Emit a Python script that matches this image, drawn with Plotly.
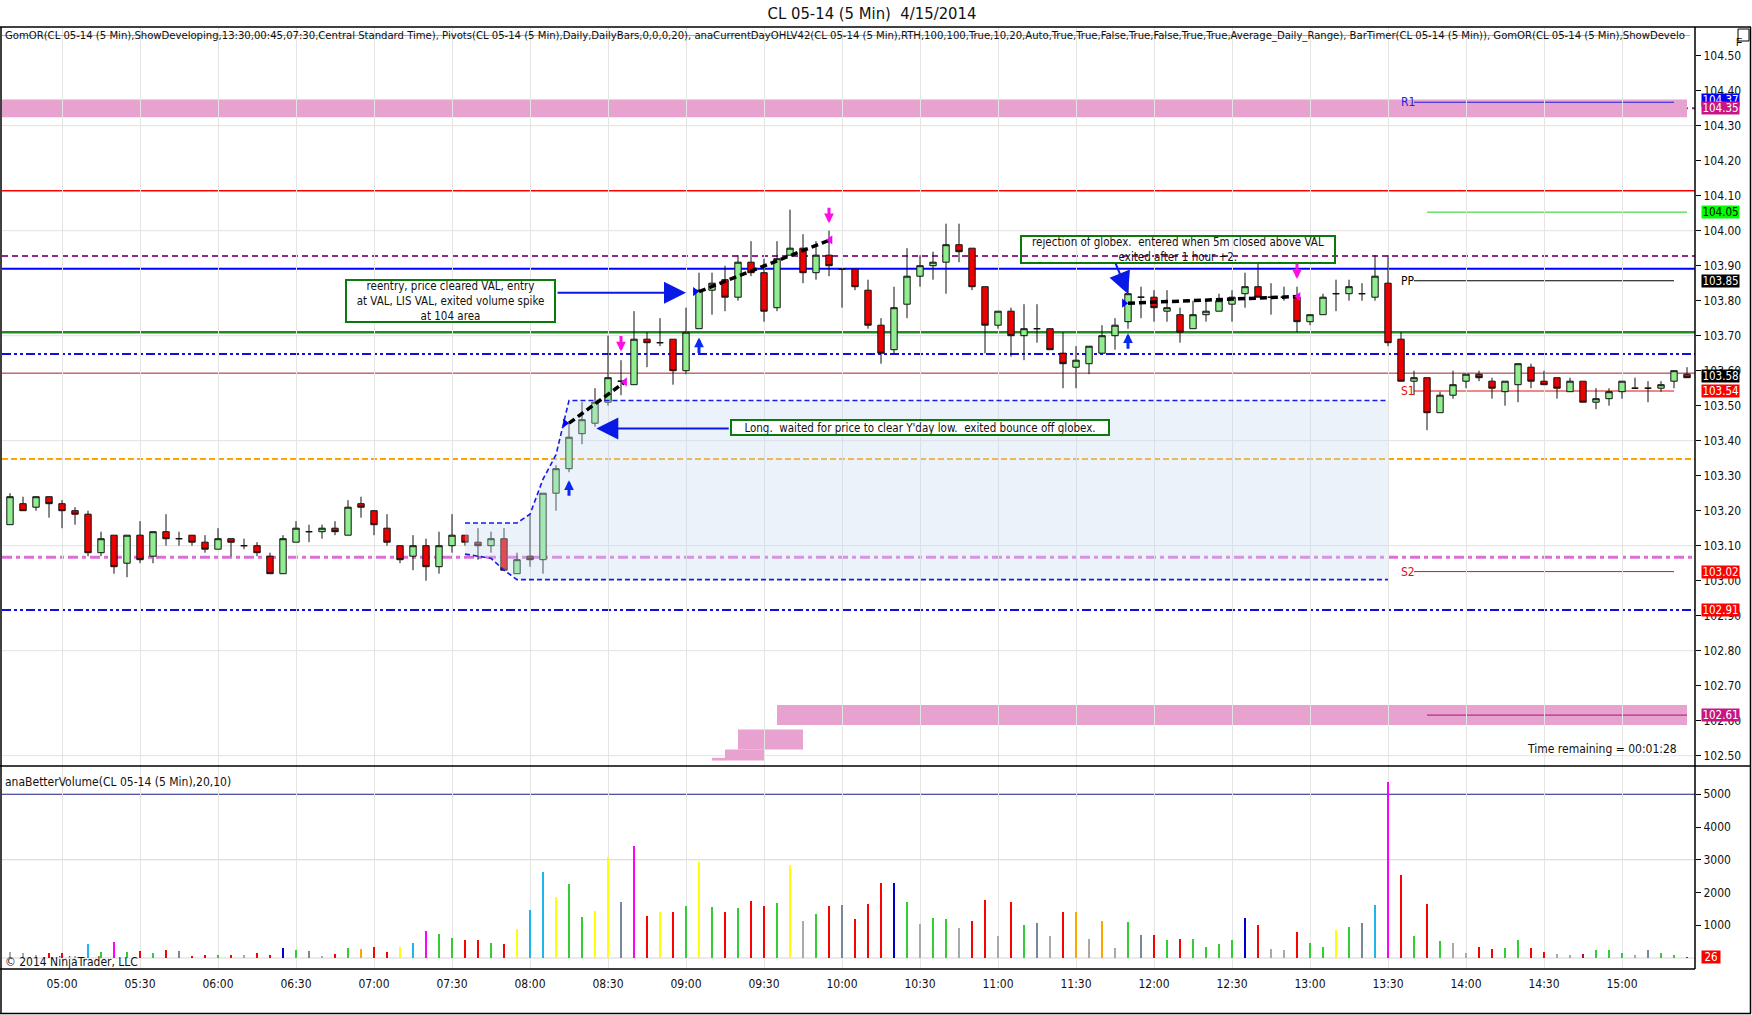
import plotly.graph_objects as go

# ---------------- data ----------------
START_TIME = (4, 40)          # first bar time, 5-minute bars
BAR_MINUTES = 5

OPEN = [103.16,103.22,103.21,103.24,103.22,103.20,103.19,103.08,103.13,103.05,
        103.13,103.07,103.14,103.12,103.13,103.11,103.09,103.12,103.10,103.10,
        103.07,103.02,103.11,103.14,103.14,103.15,103.13,103.22,103.20,103.15,
        103.10,103.07,103.10,103.04,103.10,103.13,103.11,103.10,103.12,103.02,
        103.07,103.06,103.25,103.32,103.42,103.45,103.51,103.57,103.56,103.69,
        103.68,103.69,103.60,103.72,103.83,103.86,103.81,103.91,103.88,103.78,
        103.93,103.95,103.88,103.93,103.89,103.89,103.83,103.73,103.66,103.79,
        103.87,103.90,103.91,103.96,103.95,103.84,103.73,103.77,103.70,103.72,
        103.72,103.65,103.61,103.62,103.65,103.70,103.74,103.81,103.81,103.77,
        103.76,103.72,103.76,103.77,103.79,103.82,103.84,103.81,103.81,103.81,
        103.74,103.76,103.82,103.82,103.82,103.81,103.85,103.69,103.57,103.58,
        103.48,103.53,103.57,103.59,103.57,103.54,103.56,103.61,103.57,103.58,
        103.54,103.57,103.51,103.52,103.54,103.55,103.55,103.55,103.57,103.59]
HIGH = [103.25,103.24,103.24,103.24,103.23,103.21,103.20,103.14,103.13,103.13,
        103.17,103.14,103.19,103.14,103.13,103.13,103.15,103.12,103.12,103.11,
        103.08,103.13,103.17,103.16,103.16,103.17,103.23,103.24,103.20,103.19,
        103.10,103.13,103.12,103.14,103.19,103.13,103.15,103.14,103.15,103.08,
        103.19,103.25,103.33,103.45,103.51,103.55,103.70,103.63,103.77,103.71,
        103.75,103.69,103.78,103.88,103.88,103.90,103.93,103.97,103.92,103.97,
        104.06,103.99,103.97,104.00,103.89,103.89,103.86,103.75,103.84,103.95,
        103.93,103.94,104.02,104.02,103.95,103.84,103.77,103.78,103.79,103.79,
        103.72,103.71,103.67,103.67,103.73,103.75,103.85,103.84,103.83,103.83,
        103.78,103.80,103.80,103.82,103.83,103.88,103.91,103.85,103.84,103.84,
        103.76,103.82,103.86,103.86,103.85,103.93,103.93,103.71,103.60,103.58,
        103.54,103.60,103.59,103.60,103.58,103.57,103.62,103.62,103.60,103.58,
        103.58,103.57,103.55,103.55,103.57,103.58,103.57,103.57,103.60,103.61]
LOW = [103.16,103.20,103.20,103.18,103.15,103.16,103.07,103.07,103.02,103.01,
       103.05,103.05,103.10,103.10,103.10,103.08,103.09,103.07,103.09,103.07,
       103.02,103.02,103.11,103.11,103.12,103.13,103.13,103.18,103.13,103.10,
       103.05,103.03,103.00,103.02,103.08,103.10,103.06,103.08,103.03,103.02,
       103.04,103.02,103.20,103.31,103.39,103.44,103.50,103.53,103.56,103.61,
       103.67,103.56,103.59,103.72,103.76,103.77,103.80,103.87,103.74,103.77,
       103.93,103.85,103.86,103.87,103.78,103.83,103.72,103.62,103.65,103.75,
       103.84,103.86,103.82,103.91,103.83,103.65,103.72,103.64,103.63,103.68,
       103.66,103.55,103.55,103.59,103.65,103.66,103.72,103.75,103.74,103.74,
       103.68,103.72,103.74,103.77,103.74,103.78,103.81,103.76,103.80,103.71,
       103.73,103.76,103.77,103.80,103.80,103.80,103.67,103.57,103.53,103.43,
       103.48,103.52,103.55,103.57,103.52,103.50,103.51,103.55,103.56,103.52,
       103.54,103.51,103.49,103.50,103.52,103.55,103.51,103.54,103.55,103.58]
CLOSE = [103.24,103.20,103.24,103.22,103.20,103.19,103.08,103.12,103.04,103.13,
         103.06,103.14,103.12,103.12,103.11,103.09,103.12,103.11,103.10,103.08,
         103.02,103.12,103.15,103.14,103.15,103.14,103.21,103.21,103.16,103.11,
         103.06,103.10,103.04,103.10,103.13,103.11,103.10,103.12,103.03,103.06,
         103.06,103.25,103.32,103.41,103.46,103.51,103.58,103.57,103.69,103.68,
         103.68,103.60,103.71,103.83,103.85,103.81,103.91,103.88,103.77,103.92,
         103.95,103.88,103.93,103.90,103.89,103.84,103.73,103.65,103.78,103.87,
         103.90,103.91,103.96,103.94,103.84,103.73,103.77,103.70,103.72,103.72,
         103.66,103.62,103.63,103.67,103.70,103.73,103.82,103.81,103.78,103.78,
         103.71,103.76,103.77,103.80,103.81,103.84,103.81,103.81,103.81,103.74,
         103.76,103.81,103.82,103.84,103.82,103.87,103.68,103.57,103.58,103.48,
         103.53,103.56,103.59,103.58,103.55,103.57,103.62,103.57,103.56,103.55,
         103.57,103.51,103.52,103.54,103.57,103.55,103.55,103.56,103.60,103.58]
VOLUME = [190,140,100,140,160,70,440,190,500,190,
          220,140,250,220,70,100,100,100,100,160,
          100,310,250,220,70,130,310,280,340,190,
          340,470,830,740,620,560,560,470,440,890,
          1470,2620,1860,2260,1260,1450,3080,1710,3410,1290,
          1410,1410,1590,2930,1560,1410,1530,1740,1590,1680,
          2840,1130,1350,1590,1620,1200,1650,2290,2290,1710,
          1050,1230,1200,930,1130,1780,680,1710,1020,1070,
          680,1410,1410,590,1130,310,1100,710,710,560,
          590,590,345,436,557,1226,1013,284,253,800,
          466,345,861,953,1074,1622,5361,2534,679,1652,
          527,466,162,345,284,314,557,314,193,132,
          101,132,253,253,162,101,253,162,101,26]
# anaBetterVolume bar class per bar
VOL_CLASS = list("NNNRRNCGMG" "RGRSRRGRNR" "RBGSNRGORR" "YCMGGRRGRY"
                 "CCYGGYYSMR" "YRGYGRGRRG" "YNGRSRRRBG" "NGGNRRNRGS"
                 "NRONONGSRG" "RGGGGBRNNR" "GGYGSCMRGR"
                 "GNNRRGGRRN" "NDGGGNSGGD")

# Opening-range (GomOR developing) box
OR_IDX = [35, 36, 37, 38, 39, 40, 41, 42, 43, 106]
OR_HIGH = [103.165, 103.165, 103.165, 103.165, 103.165, 103.19, 103.29, 103.36, 103.515, 103.515]
OR_LOW = [103.076, 103.07, 103.064, 103.03, 103.003, 103.003, 103.003, 103.003, 103.003, 103.003]

# full-width indicator levels
LEVELS = [104.35, 104.114, 103.928, 103.891, 103.71, 103.648, 103.593, 103.348, 103.067, 102.916]

# daily pivots
PIVOT_NAMES = ["R1", "PP", "S1", "S2"]
PIVOT_LEVELS = [104.367, 103.857, 103.542, 103.026]
CUR_OPEN_LEVEL = 104.053
GLOBEX_LOW_LEVEL = 102.616

# value bands (GomOR)
TOP_BAND = [104.324, 104.375]
LOW_BAND_STEPS = [  # (first bar, last bar, low, high)
    (59, 129, 102.588, 102.645),
    (56, 61, 102.518, 102.575),
    (55, 58, 102.486, 102.518),
    (54, 55, 102.486, 102.494),
]

# trades: entry bar, entry price, exit bar, exit price
TRADE_ENTRY_BAR = [43, 53, 86]
TRADE_ENTRY_PX = [103.45, 103.826, 103.793]
TRADE_EXIT_BAR = [47.3, 63.1, 99.1]
TRADE_EXIT_PX = [103.568, 103.974, 103.812]
BUY_ARROW_PX = [103.287, 103.695, 103.707]
SELL_ARROW_BAR = [47, 63, 99]
SELL_ARROW_PX = [103.655, 104.021, 103.862]

# price-axis flags
FLAG_TEXT = ["104.37", "104.35", "104.05", "103.85", "103.58", "103.54", "103.02", "102.91", "102.61"]
FLAG_LEVEL = [104.373, 104.35, 104.053, 103.857, 103.584, 103.542, 103.026, 102.916, 102.616]
VOL_FLAG_TEXT = "26"

PRICE_TICKS = [round(102.5 + 0.1 * k, 2) for k in range(21)]
VOL_TICKS = [1000, 2000, 3000, 4000, 5000]

TITLE = "CL 05-14 (5 Min)  4/15/2014"
HEADER = ("GomOR(CL 05-14 (5 Min),ShowDeveloping,13:30,00:45,07:30,Central Standard Time), "
          "Pivots(CL 05-14 (5 Min),Daily,DailyBars,0,0,0,20), "
          "anaCurrentDayOHLV42(CL 05-14 (5 Min),RTH,100,100,True,10,20,Auto,True,True,False,True,False,True,True,Average_Daily_Range), "
          "BarTimer(CL 05-14 (5 Min)), GomOR(CL 05-14 (5 Min),ShowDevelo")
VOL_TITLE = "anaBetterVolume(CL 05-14 (5 Min),20,10)"
NOTE_1 = "reentry, price cleared VAL, entry<br>at VAL, LIS VAL, exited volume spike<br>at 104 area"
NOTE_2 = "Long.  waited for price to clear Y'day low.  exited bounce off globex."
NOTE_3 = "rejection of globex.  entered when 5m closed above VAL<br>exited after 1 hour +2."

# ---------------- geometry / style ----------------
W, H = 1752, 1015
ML, MR, MT, MB = 2, 57, 27, 46
PW, PH = W - ML - MR, H - MT - MB
FONT = "Liberation Sans Narrow, Arial Narrow, DejaVu Sans Condensed, sans-serif"


def px2x(px):
    return (px - ML) / PW


def py2y(py):
    return (H - MB - py) / PH


SPLIT = py2y(766)
XMIN, XMAX = (ML - 10) / 13.0, (W - MR - 10) / 13.0
PRICE_RANGE = [104.5 - (766 - 55.7) / 350.0, 104.5 + (55.7 - 27) / 350.0]
VOL_RANGE = [-(969 - 958) / 0.03275, (958 - 766) / 0.03275]

N = len(OPEN)
BAR_X = list(range(N))
BAR_TIMES = []
for i in range(N):
    t = START_TIME[0] * 60 + START_TIME[1] + i * BAR_MINUTES
    BAR_TIMES.append(f"{t // 60:02d}:{t % 60:02d}")
TICK_IDX = [i for i, t in enumerate(BAR_TIMES) if t[-2:] in ("00", "30")]
TICK_TXT = [BAR_TIMES[i] for i in TICK_IDX]

VOL_COLORS = {"R": "#FF0000", "G": "#32CD32", "N": "#A9A9A9", "S": "#778899",
              "C": "#1CB6EC", "M": "#FF00FF", "Y": "#FFFF00", "B": "#0000CD",
              "O": "#FFA500", "D": "#B0103A"}

fig = go.Figure()

# opening-range box
fig.add_trace(go.Scatter(x=OR_IDX, y=OR_LOW, mode="lines", xaxis="x", yaxis="y",
                         line=dict(color="#1A1AE6", width=1.6, dash="5px,3px"), hoverinfo="skip"))
fig.add_trace(go.Scatter(x=OR_IDX, y=OR_HIGH, mode="lines", xaxis="x", yaxis="y", fill="tonexty",
                         fillcolor="rgba(200,218,242,0.35)",
                         line=dict(color="#1A1AE6", width=1.6, dash="5px,3px"), hoverinfo="skip"))

# candles
fig.add_trace(go.Candlestick(
    x=BAR_X, open=OPEN, high=HIGH, low=LOW, close=CLOSE, xaxis="x", yaxis="y",
    increasing=dict(fillcolor="#90EE90", line=dict(color="#101010", width=1)),
    decreasing=dict(fillcolor="#EE0000", line=dict(color="#101010", width=1)),
    whiskerwidth=0, showlegend=False))

# volume
fig.add_trace(go.Bar(x=BAR_X, y=VOLUME, xaxis="x", yaxis="y2", width=0.22,
                     marker=dict(color=[VOL_COLORS[c] for c in VOL_CLASS], line=dict(width=0)),
                     showlegend=False))

# trade lines
for eb, ep, xb, xp in zip(TRADE_ENTRY_BAR, TRADE_ENTRY_PX, TRADE_EXIT_BAR, TRADE_EXIT_PX):
    fig.add_trace(go.Scatter(x=[eb, xb], y=[ep, xp], mode="lines", xaxis="x", yaxis="y",
                             line=dict(color="black", width=3.5, dash="7px,4px"), hoverinfo="skip"))
fig.add_trace(go.Scatter(x=[b - 0.3 for b in TRADE_ENTRY_BAR], y=TRADE_ENTRY_PX, mode="markers",
                         xaxis="x", yaxis="y", marker=dict(symbol="triangle-right", size=8, color="#0000FF"),
                         hoverinfo="skip"))
fig.add_trace(go.Scatter(x=TRADE_EXIT_BAR, y=TRADE_EXIT_PX, mode="markers",
                         xaxis="x", yaxis="y", marker=dict(symbol="triangle-left", size=8, color="#FF00FF"),
                         hoverinfo="skip"))

# flag pointers
FLAG_BG = ["#0000FF", "#C71585", "#00FF00", "#000000", "#000000", "#FF0000", "#FF0000", "#FF0000", "#C71585"]
FLAG_FG = ["white", "white", "black", "white", "white", "white", "white", "white", "white"]
fig.add_trace(go.Scatter(
    x=[XMAX + 5.0 / 13] * len(FLAG_LEVEL), y=FLAG_LEVEL,
    mode="markers", xaxis="x", yaxis="y", cliponaxis=False,
    marker=dict(symbol="triangle-left", size=12, color=FLAG_BG, line=dict(width=0)), hoverinfo="skip"))
fig.add_trace(go.Scatter(x=[XMAX + 5.0 / 13], y=[VOLUME[-1]], mode="markers", xaxis="x", yaxis="y2",
                         cliponaxis=False,
                         marker=dict(symbol="triangle-left", size=12, color="#FF0000"), hoverinfo="skip"))

shapes = []
# price grid every 0.30
g = 102.5
while g < 104.55:
    shapes.append(dict(type="line", xref="paper", yref="y", x0=0, x1=1, y0=g, y1=g,
                       line=dict(color="#E2E2E2", width=1), layer="below"))
    g = round(g + 0.3, 2)
for v in (0, 3000):
    shapes.append(dict(type="line", xref="paper", yref="y2", x0=0, x1=1, y0=v, y1=v,
                       line=dict(color="#D6D6D6", width=1), layer="below"))
shapes.append(dict(type="line", xref="paper", yref="y2", x0=0, x1=1, y0=5000, y1=5000,
                   line=dict(color="#1C1C8C", width=1.2), layer="below"))

# pink bands
shapes.append(dict(type="rect", xref="x", yref="y", x0=XMIN, x1=129, y0=TOP_BAND[0], y1=TOP_BAND[1],
                   fillcolor="#E8A2CF", line=dict(width=0), layer="below"))
for a, b, lo, hi in LOW_BAND_STEPS:
    shapes.append(dict(type="rect", xref="x", yref="y", x0=a, x1=b, y0=lo, y1=hi,
                       fillcolor="#E8A2CF", line=dict(width=0), layer="below"))

# full width level lines
LEVEL_STYLE = [
    dict(color="#8E2A8E", width=2, dash="6px,4px"),
    dict(color="#FF0000", width=1.6),
    dict(color="#8E2A8E", width=2, dash="6px,4px"),
    dict(color="#0000FF", width=2),
    dict(color="#1E8C1E", width=2.4),
    dict(color="#1010E0", width=2, dash="9px,3px,3px,3px,3px,3px"),
    dict(color="#A0202A", width=1),
    dict(color="#FFA500", width=2, dash="6px,3px"),
    dict(color="#DA70D6", width=3, dash="10px,4px,4px,4px"),
    dict(color="#1010E0", width=2, dash="9px,3px,3px,3px,3px,3px"),
]
for lv, st in zip(LEVELS, LEVEL_STYLE):
    shapes.append(dict(type="line", xref="paper", yref="y", x0=0, x1=1, y0=lv, y1=lv, line=st, layer="below"))

# pivots and short lines
PIVOT_COLORS = ["#2020E0", "#000000", "#E01010", "#E01010"]
for lv, c in zip(PIVOT_LEVELS, PIVOT_COLORS):
    shapes.append(dict(type="line", xref="x", yref="y", x0=108, x1=128, y0=lv, y1=lv,
                       line=dict(color=c, width=1), layer="below"))
shapes.append(dict(type="line", xref="x", yref="y", x0=109, x1=129, y0=CUR_OPEN_LEVEL, y1=CUR_OPEN_LEVEL,
                   line=dict(color="#22CC22", width=1), layer="below"))
shapes.append(dict(type="line", xref="x", yref="y", x0=109, x1=129, y0=GLOBEX_LOW_LEVEL, y1=GLOBEX_LOW_LEVEL,
                   line=dict(color="#B0106A", width=1), layer="below"))

# frame
BL = dict(color="black", width=1.5)
shapes += [
    dict(type="line", xref="paper", yref="paper", x0=px2x(0), x1=px2x(1751), y0=1, y1=1, line=BL),
    dict(type="line", xref="paper", yref="paper", x0=px2x(0), x1=px2x(1751), y0=SPLIT, y1=SPLIT, line=BL),
    dict(type="line", xref="paper", yref="paper", x0=px2x(0), x1=1, y0=0, y1=0, line=BL),
    dict(type="line", xref="paper", yref="paper", x0=1, x1=1, y0=0, y1=1, line=BL),
    dict(type="line", xref="paper", yref="paper", x0=px2x(1), x1=px2x(1), y0=py2y(1013.5), y1=1, line=BL),
    dict(type="line", xref="paper", yref="paper", x0=px2x(0), x1=px2x(1751), y0=py2y(1013.5), y1=py2y(1013.5), line=BL),
    dict(type="line", xref="paper", yref="paper", x0=px2x(1750.5), x1=px2x(1750.5), y0=py2y(1013.5), y1=1, line=BL),
    dict(type="line", xref="paper", yref="paper", x0=px2x(2), x1=px2x(1690), y0=py2y(35.5), y1=py2y(35.5),
         line=dict(color="#F0A020", width=1)),
    dict(type="rect", xref="paper", yref="paper", x0=px2x(1738), x1=px2x(1749), y0=py2y(41), y1=py2y(29),
         line=dict(color="black", width=1), fillcolor="white"),
]

ann = []
ann.append(dict(text=HEADER, xref="paper", yref="paper", x=px2x(3), y=py2y(35), xanchor="left", yanchor="middle",
                showarrow=False, font=dict(family=FONT, size=11.2, color="#111")))
ann.append(dict(text=VOL_TITLE, xref="paper", yref="paper", x=px2x(3), y=py2y(782), xanchor="left",
                yanchor="middle", showarrow=False, font=dict(family=FONT, size=12, color="#111")))
ann.append(dict(text="© 2014 NinjaTrader, LLC", xref="paper", yref="paper", x=px2x(3), y=py2y(962),
                xanchor="left", yanchor="middle", showarrow=False, font=dict(family=FONT, size=12, color="#111")))
ann.append(dict(text="Time remaining = 00:01:28", xref="paper", yref="paper", x=px2x(1679), y=py2y(749),
                xanchor="right", yanchor="middle", showarrow=False, font=dict(family=FONT, size=12, color="#111")))
ann.append(dict(text="F", xref="paper", yref="paper", x=px2x(1743.5), y=py2y(35), showarrow=False,
                font=dict(family="Arial, Liberation Sans, sans-serif", size=10, color="black")))

# note boxes
for txt, cx, cy, w, h, bg in [(NOTE_1, 33.85, 103.799, 207, 40, "white"),
                              (NOTE_2, 70.0, 103.438, 376, 13, "white"),
                              (NOTE_3, 89.85, 103.946, 312, 25, "rgba(0,0,0,0)")]:
    ann.append(dict(text=txt, x=cx, y=cy, xref="x", yref="y", showarrow=False, width=w, height=h,
                    bgcolor=bg, bordercolor="#0A7A0A", borderwidth=2, borderpad=0, align="center",
                    font=dict(family=FONT, size=11.5, color="#111")))
# blue note arrows
for tx, ty, axx, ayy in [(52.0, 103.823, 42.0, 103.823), (45.1, 103.435, 55.4, 103.435),
                         (86.0, 103.819, 85.0, 103.911)]:
    ann.append(dict(text="", x=tx, y=ty, ax=axx, ay=ayy, xref="x", yref="y", axref="x", ayref="y",
                    showarrow=True, arrowhead=2, arrowsize=2.2, arrowwidth=2, arrowcolor="#0A1AE6"))
# buy / sell arrows
for b, p in zip(TRADE_ENTRY_BAR, BUY_ARROW_PX):
    ann.append(dict(text="", x=b, y=p, xref="x", yref="y", ax=0, ay=17, showarrow=True,
                    arrowhead=2, arrowsize=0.65, arrowwidth=3, arrowcolor="#0A2AF0"))
for b, p in zip(SELL_ARROW_BAR, SELL_ARROW_PX):
    ann.append(dict(text="", x=b, y=p, xref="x", yref="y", ax=0, ay=-17, showarrow=True,
                    arrowhead=2, arrowsize=0.65, arrowwidth=3, arrowcolor="#FF10E0"))
# pivot names
for nm, lv, c in zip(PIVOT_NAMES, PIVOT_LEVELS, PIVOT_COLORS):
    ann.append(dict(text=nm, x=106.85, y=lv, xref="x", yref="y", xanchor="left", yanchor="middle",
                    showarrow=False, font=dict(family=FONT, size=12, color=c)))
# flags
for txt, lv, bg, fg in zip(FLAG_TEXT, FLAG_LEVEL, FLAG_BG, FLAG_FG):
    ann.append(dict(text=txt, xref="paper", yref="y", x=1, y=lv, xshift=6, xanchor="left",
                    yanchor="middle", showarrow=False, bgcolor=bg, width=37, height=12, borderpad=0,
                    font=dict(family=FONT, size=11.5, color=fg)))
ann.append(dict(text=VOL_FLAG_TEXT, xref="paper", yref="y2", x=1, y=VOLUME[-1], xshift=6, xanchor="left",
                yanchor="middle", showarrow=False, bgcolor="#FF0000", width=18, height=12, borderpad=0,
                font=dict(family=FONT, size=11.5, color="white")))

fig.update_layout(
    width=W, height=H, margin=dict(l=ML, r=MR, t=MT, b=MB),
    paper_bgcolor="white", plot_bgcolor="white", showlegend=False, bargap=0,
    title=dict(text=TITLE, x=872 / W, xref="container", y=1 - 13 / H, yref="container",
               xanchor="center", yanchor="middle", font=dict(family=FONT, size=16.5, color="#111")),
    xaxis=dict(range=[XMIN, XMAX], anchor="y2", tickvals=TICK_IDX, ticktext=TICK_TXT,
               showgrid=True, gridcolor="#E4E4E4", gridwidth=1, zeroline=False, showline=False,
               ticks="outside", ticklen=4, tickcolor="rgba(0,0,0,0)",
               tickfont=dict(family=FONT, size=12, color="#111"), rangeslider=dict(visible=False)),
    yaxis=dict(domain=[SPLIT, 1], range=PRICE_RANGE, side="right", anchor="x", tickvals=PRICE_TICKS,
               ticktext=[f"{v:.2f}" for v in PRICE_TICKS], ticks="outside", ticklen=5, tickcolor="black",
               showgrid=False, zeroline=False, showline=False,
               tickfont=dict(family=FONT, size=12, color="#111")),
    yaxis2=dict(domain=[0, SPLIT], range=VOL_RANGE, side="right", anchor="x", tickvals=VOL_TICKS,
                ticks="outside", ticklen=5, tickcolor="black", showgrid=False, zeroline=False,
                showline=False, tickfont=dict(family=FONT, size=12, color="#111")),
    shapes=shapes, annotations=ann,
)

fig.write_html("out.html", config={"displayModeBar": False},
               post_script="document.body.style.margin='0px';document.body.style.padding='0px';"
                           "document.body.style.overflow='hidden';")
